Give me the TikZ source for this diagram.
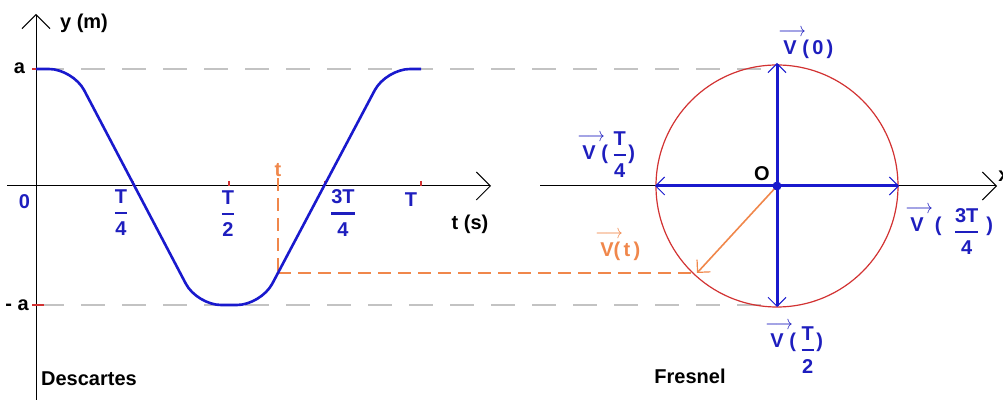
\documentclass[tikz,border=0pt]{standalone}
\usepackage{fontspec}
\setmainfont{Liberation Sans}
\usepackage{graphicx}
\usetikzlibrary{arrows.meta}
\definecolor{myblue}{RGB}{25,25,205}
\definecolor{lblue}{RGB}{30,30,190}
\definecolor{myorange}{RGB}{240,135,75}
\definecolor{myred}{RGB}{210,50,50}
\definecolor{dgray}{RGB}{195,195,195}
\newcommand\fr[2]{$\displaystyle{\hbox{#1}\above 1.3pt\hbox{#2}}$}
\newcommand\vecV{\makebox[0pt][l]{\kern-2.5pt\raisebox{9pt}{\scalebox{0.85}[1]{$\longrightarrow$}}}V}
\tikzset{
  lbl/.style={font=\bfseries\fontsize{10}{12}\selectfont, inner sep=0pt},
  bl/.style={lbl, text=lblue},
  axisline/.style={line width=0.5pt, black, -{Straight Barb[length=7pt,width=14pt,line width=0.5pt]}},
  guide/.style={dgray, line width=0.6pt, dash pattern=on 12pt off 8.5pt},
  oguide/.style={myorange, line width=0.6pt, dash pattern=on 6.5pt off 3.5pt},
  curve/.style={myblue, line width=1.3pt, rounded corners=12pt},
  vec/.style={myblue, line width=1.5pt, -{Straight Barb[length=4.5pt,width=9pt,line width=0.5pt]}},
  ovec/.style={myorange, line width=0.8pt, -{Straight Barb[length=4.5pt,width=9pt,line width=0.6pt]}},
  tick/.style={myred, line width=0.6pt},
}
\begin{document}
\begin{tikzpicture}[x=0.5pt, y=-0.5pt]
\useasboundingbox (0,0) rectangle (1003,400);
% named points
\coordinate (yb) at (36,400);
\coordinate (yt) at (36,14);
\coordinate (xl) at (7,186);
\coordinate (xr) at (491,186);
\coordinate (O) at (777,186);
\coordinate (rl) at (540,186);
\coordinate (rr) at (997,186);
\coordinate (P) at (278,273);
\coordinate (Pt) at (278,178);
\coordinate (ga1) at (40,69);
\coordinate (ga2) at (777,69);
\coordinate (gb1) at (40,305);
\coordinate (gb2) at (777,305);
\coordinate (v0) at (777,63);
\coordinate (vT2) at (777,307);
\coordinate (vT4) at (655,186);
\coordinate (v3T4) at (899,186);
\coordinate (vt) at (697,273);
% curve corners
\coordinate (c0) at (36,69);
\coordinate (c1) at (73,69);
\coordinate (c2) at (197,305);
\coordinate (c3) at (261,305);
\coordinate (c4) at (386,69);
\coordinate (c5) at (421,69);
% guides
\draw[guide] (ga1) -- (ga2);
\draw[guide] (gb1) -- (gb2);
% axes
\draw[axisline] (yb) -- (yt);
\draw[axisline] (xl) -- (xr);
\draw[axisline] (rl) -- (rr);
% ticks
\foreach \tx in {133,229,325,421} \draw[tick] (\tx,181) -- (\tx,186);
\draw[tick] (32,69) -- (44,69);
\draw[tick] (32,305) -- (44,305);
% orange guides
\draw[oguide] (Pt) -- (P);
\draw[oguide] (P) -- (vt);
% curve
\draw[curve] (c0) -- (c1) -- (c2) -- (c3) -- (c4) -- (c5);
% circle
\draw[myred, line width=0.6pt] (O) circle[radius=121];
% vectors
\draw[vec] (O) -- (v0);
\draw[vec] (O) -- (vT2);
\draw[vec] (O) -- (vT4);
\draw[vec] (O) -- (v3T4);
\draw[ovec] (O) -- (vt);
\fill[myblue] (O) circle[radius=4.5];
% left labels
\node[lbl] (ylab) at (84,23) {y (m)};
\node[lbl] (alab) at (19.5,68) {a};
\node[lbl] (malab) at (17,305) {- a};
\node[bl] (zero) at (24.5,202) {0};
\node[bl] (q1) at (121,213) {\fr{T}{4}};
\node[bl] (q2) at (228,214) {\fr{T}{2}};
\node[bl] (q3) at (343,213) {\fr{3T}{4}};
\node[bl] (qT) at (411,200) {T};
\node[lbl] (tslab) at (470,224) {t (s)};
\node[lbl, text=myorange] (tlab) at (278,170) {t};
\node[lbl] (desc) at (89,379) {Descartes};
% right labels
\node[lbl] (Olab) at (762,174) {O};
\node[lbl] (fres) at (690,376) {Fresnel};
\node[bl, anchor=base west] (l0) at (783,55) {\vecV\ (\,0\,)};
\node[bl, anchor=base west] (l1) at (582,160) {\vecV\ (\,\fr{T}{4})};
\node[bl, anchor=base west] (l2) at (770,348) {\vecV\ (\,\raisebox{-3.5pt}{\fr{T}{2}})};
\node[bl, anchor=base west] (l3) at (910,232) {\vecV\ \ (\ \ \raisebox{-2.5pt}{\fr{3T}{4}}\ )};
\node[lbl, text=myorange, anchor=base west] (lt) at (600,257) {\vecV(\,t\,)};
\node[lbl, anchor=west] (xlab) at (998,176) {x};
\end{tikzpicture}
\end{document}
